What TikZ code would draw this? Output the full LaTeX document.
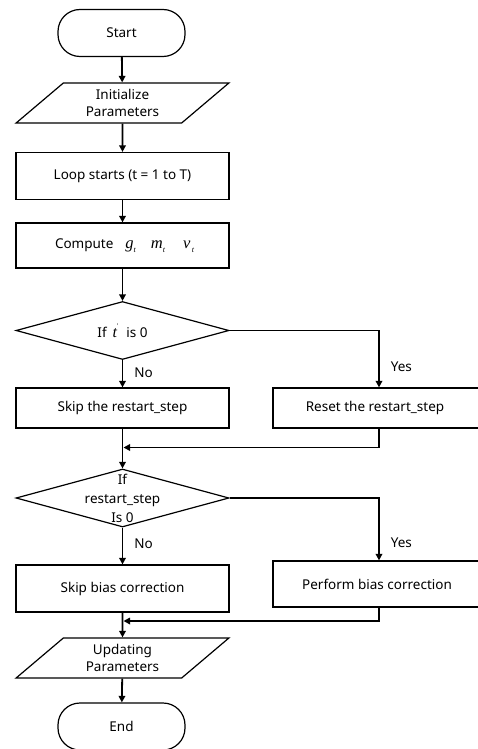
\documentclass[tikz,border=0pt]{standalone}
\usepackage{fontspec}
\setmainfont{Noto Sans}
\newfontfamily\tms{Liberation Serif}
\usetikzlibrary{shapes.geometric,arrows.meta,calc}
\newcommand\mvar[2]{{\tms\itshape\fontsize{16.5}{16.5}\selectfont #1\raisebox{-0.45ex}{\fontsize{8}{8}\selectfont #2}}}
\begin{document}
\begin{tikzpicture}[x=1pt,y=-1pt,
  every node/.style={font=\fontsize{13.5}{17.5}\selectfont, inner sep=0pt},
  box/.style={draw, line width=1.2pt, minimum height=#1},
  term/.style={draw, line width=1.2pt, rounded corners=22pt, minimum width=127pt, minimum height=47pt},
  io/.style={draw, line width=1.2pt, trapezium, trapezium left angle=43.6, trapezium right angle=136.4,
     trapezium stretches=true, minimum width=213pt, minimum height=40pt, align=center},
  dec/.style={draw, line width=1.2pt, diamond, minimum width=213pt, minimum height=58pt, aspect=3.67},
  arr/.style={line width=1.8pt, -{Triangle[length=6.5pt,width=6.5pt]}},
  lbl/.style={font=\fontsize{13.5}{19}\selectfont}
]
\useasboundingbox (0,0) rectangle (478,749);
\node[term] (start) at (121.5,33) {Start};
\node[io] (init) at (122.5,103) {Initialize\\Parameters};
\node[box=47pt, minimum width=213pt] (loop) at (122.5,176) {Loop starts (t = 1 to T)};
\node[box=45pt, minimum width=213pt] (comp) at (122.5,245.5) {\hspace{4pt}Compute\hspace{12pt}\mvar{g}{t}\hspace{15pt}\mvar{m}{t}\hspace{18pt}\mvar{v}{\,t}};
\node[dec, label={[lbl]center:If\hspace{6pt}{\tms\itshape\fontsize{16}{16}\selectfont t}\raisebox{1.3ex}{\fontsize{7}{7}\selectfont\tms '}\hspace{8pt}is 0}] (d1) at (122.5,330.5) {};
\node[box=40pt, minimum width=213pt] (skip1) at (122.5,408) {Skip the restart\_step};
\node[box=40pt, minimum width=212pt] (reset) at (379,408) {\hspace{-8pt}Reset the restart\_step};
\node[dec, label={[lbl,align=center]center:If\\restart\_step\\Is 0}] (d2) at (122.5,498) {};
\node[box=47pt, minimum width=213pt] (skip2) at (122.5,588.5) {Skip bias correction};
\node[box=46pt, minimum width=212pt] (perf) at (379,584) {\hspace{-4pt}Perform bias correction};
\node[io] (upd) at (122.5,658) {Updating\\Parameters};
\node[term] (end) at (121.5,726.5) {End};

\coordinate (m1) at (122.5,447.5);
\coordinate (m2) at (122.5,621);

\draw[arr] (start) -- (init);
\draw[arr] (init) -- (loop);
\draw[arr] (loop) -- (comp);
\draw[arr] (comp) -- (d1);
\draw[arr] (d1) -- node[lbl, right=11pt, pos=0.45]{No} (skip1);
\draw[arr] (d1.east) -| node[lbl, pos=0.82, right=11pt]{Yes} (reset.north);
\draw[arr] (skip1) -- (d2);
\draw[arr] (reset.south) |- ([xshift=1pt]m1);
\draw[arr] (d2) -- node[lbl, right=11pt, pos=0.45]{No} (skip2);
\draw[arr] (d2.east) -| node[lbl, pos=0.86, right=11pt]{Yes} (perf.north);
\draw[arr] (skip2) -- (upd);
\draw[arr] (perf.south) |- ([xshift=1pt]m2);
\draw[arr] (upd) -- (end);
\end{tikzpicture}
\end{document}
